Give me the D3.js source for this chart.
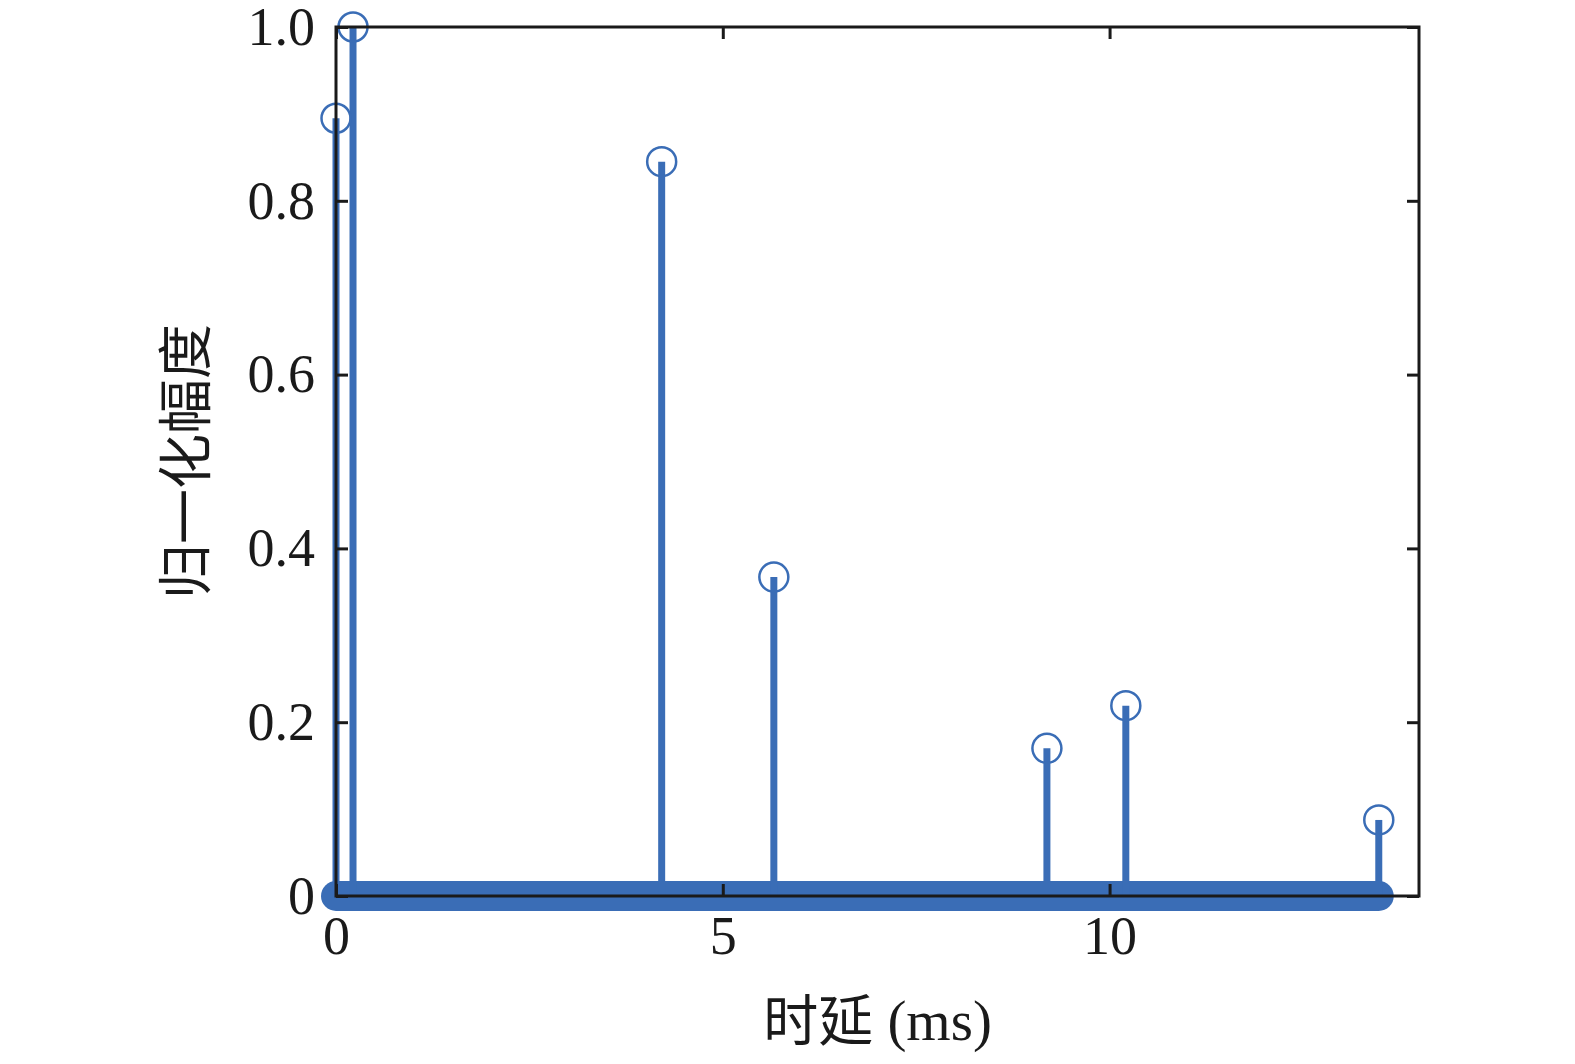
<!DOCTYPE html>
<html><head><meta charset="utf-8">
<script src="https://cdn.jsdelivr.net/npm/d3@7"></script>
<style>body{margin:0;background:#fff}svg{display:block}</style>
</head><body>
<svg id="c" width="1575" height="1064"></svg>
<script>
const delays = [0, 0.22, 4.21, 5.66, 9.19, 10.21, 13.48];
const amps = [0.895, 1.0, 0.845, 0.367, 0.170, 0.219, 0.0875];
const xTicks = [0, 5, 10];
const yTicks = [0, 0.2, 0.4, 0.6, 0.8, 1.0];
const yTickLabels = ["0", "0.2", "0.4", "0.6", "0.8", "1.0"];
const xTitleCJK = "时延";
const xTitleUnit = " (ms)";
const yTitle = "归一化幅度";

const blue = "#3a6db6";
const L = 336, R = 1419, T = 27, B = 896;
const svg = d3.select("#c");
const x = d3.scaleLinear().domain([0, 14]).range([L, R]);
const y = d3.scaleLinear().domain([0, 1]).range([B, T]);
const font = "'Liberation Serif','Times New Roman','Noto Sans CJK SC',serif";

// thick baseline band (zero samples)
svg.append("line")
  .attr("x1", x(d3.min(delays))).attr("x2", x(d3.max(delays)))
  .attr("y1", y(0)).attr("y2", y(0))
  .attr("stroke", blue).attr("stroke-width", 30).attr("stroke-linecap", "round");

const data = delays.map((d, i) => ({t: d, a: amps[i]}));
svg.selectAll("line.stem").data(data).enter().append("line")
  .attr("class", "stem")
  .attr("x1", d => x(d.t)).attr("x2", d => x(d.t))
  .attr("y1", y(0)).attr("y2", d => y(d.a))
  .attr("stroke", blue).attr("stroke-width", 7);
svg.selectAll("circle.mk").data(data).enter().append("circle")
  .attr("class", "mk")
  .attr("cx", d => x(d.t)).attr("cy", d => y(d.a)).attr("r", 14.5)
  .attr("fill", "none").attr("stroke", blue).attr("stroke-width", 2.5);

// axes
function style(g, labels) {
  g.select(".domain").remove();
  g.selectAll(".tick line").attr("stroke", "#1a1a1a").attr("stroke-width", 3);
  g.selectAll("text").attr("font-family", font).attr("font-size", 54).attr("fill", "#1a1a1a");
  if (!labels) g.selectAll("text").remove();
}
const yFmt = (d) => yTickLabels[yTicks.indexOf(d)];
svg.append("g").attr("transform", `translate(${L},0)`)
  .call(d3.axisLeft(y).tickValues(yTicks).tickFormat(yFmt).tickSize(-12).tickPadding(21))
  .call(g => style(g, true));
svg.append("g").attr("transform", `translate(${R},0)`)
  .call(d3.axisRight(y).tickValues(yTicks).tickSize(-12))
  .call(g => style(g, false));
svg.append("g").attr("transform", `translate(0,${B})`)
  .call(d3.axisBottom(x).tickValues(xTicks).tickFormat(d3.format("d")).tickSize(-12).tickPadding(20))
  .call(g => style(g, true));
svg.append("g").attr("transform", `translate(0,${T})`)
  .call(d3.axisTop(x).tickValues(xTicks).tickSize(-12))
  .call(g => style(g, false));

svg.append("rect").attr("x", L).attr("y", T).attr("width", R - L).attr("height", B - T)
  .attr("fill", "none").attr("stroke", "#1a1a1a").attr("stroke-width", 3);

const xt = svg.append("text").attr("x", (L + R) / 2).attr("y", 1040)
  .attr("text-anchor", "middle").attr("font-family", font).attr("font-size", 55)
  .attr("fill", "#1a1a1a");
xt.append("tspan").text(xTitleCJK);
xt.append("tspan").attr("font-size", 57).text(xTitleUnit);
svg.append("text").attr("transform", `translate(205,${(T + B) / 2}) rotate(-90)`)
  .attr("text-anchor", "middle").attr("font-family", font).attr("font-size", 55)
  .attr("fill", "#1a1a1a").text(yTitle);
</script>
</body></html>
